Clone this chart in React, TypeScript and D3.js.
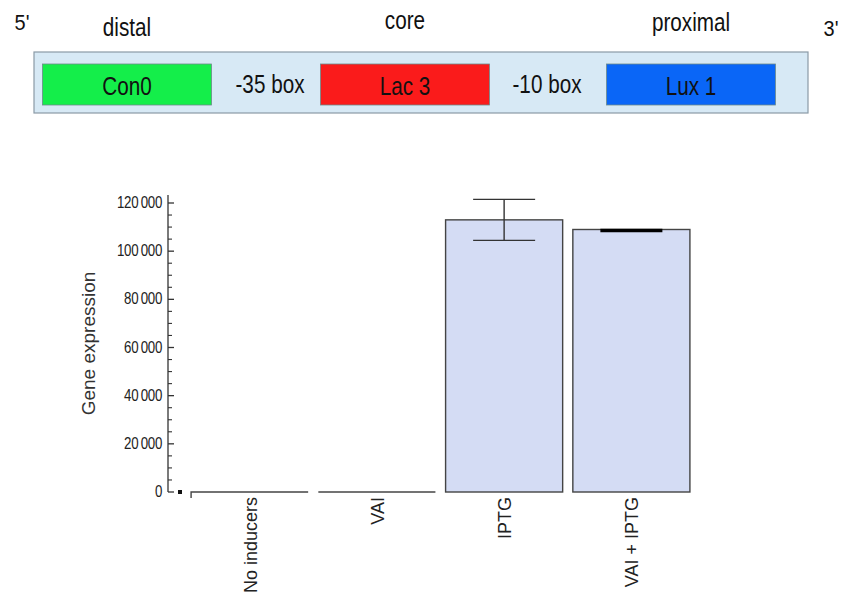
import React from "react";
import * as d3 from "d3";

// promoter diagram
const regionLabels = ["distal", "core", "proximal"];
const partNames = ["Con0", "Lac 3", "Lux 1"];
const partColors = ["#14ee4a", "#fa1b1b", "#0a66f7"];
const spacerLabels = ["-35 box", "-10 box"];

// bar chart
const categories = ["No inducers", "VAI", "IPTG", "VAI + IPTG"];
const expression = [0, 0, 113000, 109000];
const errors = [0, 0, 8500, 400];
const yTicks = [0, 20000, 40000, 60000, 80000, 100000, 120000];

const W = 842;
const H = 599;

const fmt = (v: number) => d3.format(",")(v).replace(/,/g, "\u2009");

export default function App() {
  const x = d3
    .scaleBand<string>()
    .domain(categories)
    .range([186, 695])
    .paddingInner(0.08)
    .paddingOuter(0.04);
  const y = d3.scaleLinear().domain([0, 120000]).range([492, 203]);
  const minor = d3.range(0, 123001, 5000).filter((v) => v % 20000 !== 0);
  const axisX = 168;

  // diagram layout
  const partX = d3.scaleOrdinal<string, number>().domain(partNames).range([127, 405, 691]);
  const font = "'Liberation Sans', Arial, Helvetica, sans-serif";

  return (
    <svg
      width={W}
      height={H}
      style={{ position: "absolute", left: 0, top: 0, background: "#fff" }}
    >
      {/* ---- diagram ---- */}
      <g fontFamily={font} fill="#111">
        <text transform="translate(22,30) scale(0.95,1.05)" fontSize={21} textAnchor="middle">5'</text>
        <text transform="translate(831,36) scale(0.95,1.05)" fontSize={21} textAnchor="middle">3'</text>
        {regionLabels.map((r, i) => (
          <text
            key={r}
            transform={`translate(${partX(partNames[i])},${[36, 29, 31][i]}) scale(0.9,1.08)`}
            fontSize={23}
            textAnchor="middle"
          >
            {r}
          </text>
        ))}
        <rect x={34} y={52} width={774} height={61} fill="#d7e9f5" stroke="#8a9aa6" strokeWidth={1.2} />
        {partNames.map((p, i) => (
          <g key={p}>
            <rect
              x={partX(p) - 84.5}
              y={64}
              width={169}
              height={41}
              fill={partColors[i]}
              stroke="#6d8a8a"
              strokeWidth={0.8}
            />
            <text transform={`translate(${partX(p)},95) scale(0.9,1.1)`} fontSize={23} textAnchor="middle">
              {p}
            </text>
          </g>
        ))}
        {spacerLabels.map((s, i) => {
          const cx = [270, 547][i];
          return (
            <text key={s} transform={`translate(${cx},93) scale(0.9,1.1)`} fontSize={23} textAnchor="middle">
              {s}
            </text>
          );
        })}
      </g>

      {/* ---- chart ---- */}
      <g fontFamily={font} fill="#222">
        {expression.map((v, i) => {
          const c = categories[i];
          const x0 = x(c) as number;
          const bw = x.bandwidth();
          if (v === 0) {
            return (
              <path
                key={c}
                d={`M${x0},${y(0) + (i === 0 ? 6 : 0)}V${y(0)}H${x0 + bw}`}
                fill="none"
                stroke="#444"
                strokeWidth={1.4}
              />
            );
          }
          return (
            <rect
              key={c}
              x={x0}
              y={y(v)}
              width={bw}
              height={y(0) - y(v)}
              fill="#d4dcf4"
              stroke="#444"
              strokeWidth={1.4}
            />
          );
        })}
        {expression.map((v, i) => {
          const e = errors[i];
          if (!e) return null;
          const cx = (x(categories[i]) as number) + x.bandwidth() / 2;
          if (e < 1000) {
            return (
              <line key={i} x1={cx - 31} x2={cx + 31} y1={y(v) + 1} y2={y(v) + 1} stroke="#000" strokeWidth={3.5} />
            );
          }
          return (
            <g key={i} stroke="#333" strokeWidth={1.4}>
              <line x1={cx} x2={cx} y1={y(v + e)} y2={y(v - e)} />
              <line x1={cx - 31} x2={cx + 31} y1={y(v + e)} y2={y(v + e)} />
              <line x1={cx - 31} x2={cx + 31} y1={y(v - e)} y2={y(v - e)} />
            </g>
          );
        })}

        {/* y axis */}
        <line x1={axisX} x2={axisX} y1={195} y2={y(0)} stroke="#333" strokeWidth={1.3} />
        {yTicks.map((t) => (
          <g key={t}>
            <line x1={axisX} x2={axisX + 6} y1={y(t)} y2={y(t)} stroke="#333" strokeWidth={1.3} />
            <text
              transform={`translate(162,${y(t) + 5}) scale(0.95,1.15)`}
              fontSize={14}
              textAnchor="end"
              letterSpacing={-0.3}
            >
              {fmt(t)}
            </text>
          </g>
        ))}
        {minor.map((t) => (
          <line key={t} x1={axisX} x2={axisX + 4} y1={y(t)} y2={y(t)} stroke="#333" strokeWidth={1.1} />
        ))}
        <rect x={178} y={y(0) - 2} width={4} height={4} fill="#111" />

        <text
          transform={`translate(95,${(y(0) + 195) / 2}) rotate(-90)`}
          fontSize={19}
          textAnchor="middle"
          fill="#333"
        >
          Gene expression
        </text>

        {categories.map((c) => (
          <text
            key={c}
            transform={`translate(${(x(c) as number) + x.bandwidth() / 2 + 7},${y(0) + 5}) rotate(-90)`}
            fontSize={18}
            textAnchor="end"
            fill="#222"
          >
            {c}
          </text>
        ))}
      </g>
    </svg>
  );
}
